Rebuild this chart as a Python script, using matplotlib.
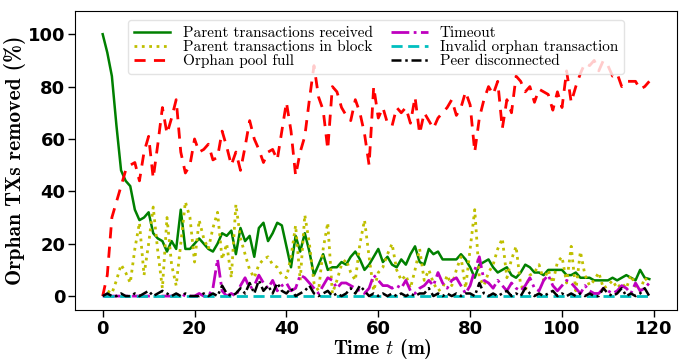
import matplotlib
matplotlib.use("Agg")
import matplotlib.pyplot as plt
from matplotlib import font_manager

time_min = list(range(120))

parent_received = [100, 93, 84, 65, 48, 44, 42, 33, 29, 30, 32, 24, 22, 21, 17, 21, 18, 33, 18, 18,
                   20, 22, 20, 18, 17, 20, 24, 23, 25, 16, 26, 21, 23, 15, 26, 28, 21, 24, 28, 27,
                   19, 11, 23, 17, 24, 17, 8, 12, 16, 10, 11, 11, 13, 12, 15, 17, 14, 10, 12, 15,
                   18, 13, 15, 12, 11, 14, 12, 16, 19, 13, 12, 18, 16, 17, 14, 14, 14, 14, 16, 14,
                   11, 7, 12, 13, 14, 11, 9, 10, 11, 8, 7, 9, 12, 11, 9, 9, 8, 10, 10, 10,
                   10, 8, 8, 9, 7, 7, 7, 6, 6, 6, 6, 7, 6, 7, 8, 7, 6, 10, 7, 6.5]

parent_in_block = [0, 2, 1, 6, 12, 9, 5, 18, 28, 8, 20, 34, 17, 3, 30, 12, 4, 20, 36, 30,
                   13, 29, 22, 18, 26, 32, 14, 20, 7, 35, 22, 16, 10, 7, 12, 14, 15, 12, 11, 8,
                   7, 15, 27, 6, 31, 20, 5, 2, 18, 28, 1, 6, 12, 14, 9, 6, 20, 29, 15, 2,
                   9, 11, 16, 20, 10, 6, 8, 3, 10, 18, 6, 10, 5, 2, 3, 8, 4, 10, 15, 3,
                   18, 33, 7, 4, 9, 12, 18, 22, 7, 14, 19, 4, 2, 8, 9, 12, 6, 10, 5, 13,
                   15, 5, 19, 2, 17, 8, 4, 6, 9, 3, 4, 6, 3, 5, 3, 8, 4, 2, 7, 5]

orphan_pool_full = [0, 8, 30, 36, 42, 48, 50, 51, 44, 55, 61, 45, 58, 72, 62, 68, 75, 55, 47, 50,
                    60, 55, 56, 58, 52, 53, 63, 57, 50, 55, 48, 57, 67, 60, 56, 51, 55, 56, 52, 63,
                    74, 63, 46, 55, 61, 75, 88, 76, 71, 56, 80, 78, 72, 69, 67, 75, 70, 62, 50, 80,
                    68, 72, 66, 65, 72, 70, 72, 66, 76, 62, 70, 67, 64, 68, 70, 72, 75, 69, 72, 78,
                    73, 55, 68, 75, 80, 77, 82, 64, 75, 70, 84, 82, 78, 80, 74, 79, 78, 77, 71, 78,
                    72, 86, 74, 80, 85, 89, 88, 90, 86, 90, 88, 84, 85, 80, 82, 82, 82, 79, 80, 82]

timeout = [0, 0, 0, 0, 0, 0, 0, 0, 0, 0, 0, 0, 0, 0, 0, 0, 0, 1, 0, 0,
           0, 1, 0, 0, 3, 14, 2, 0, 1, 0, 4, 7, 3, 4, 8, 5, 3, 6, 2, 4,
           5, 2, 3, 8, 7, 5, 3, 1, 4, 7, 6, 3, 5, 5, 4, 3, 2, 1, 3, 8,
           6, 4, 4, 3, 4, 3, 6, 2, 1, 3, 4, 6, 4, 9, 5, 3, 6, 7, 4, 1,
           4, 10, 15, 6, 5, 3, 6, 4, 2, 5, 3, 2, 4, 7, 3, 2, 6, 8, 4, 2,
           4, 6, 5, 3, 1, 4, 2, 1, 1, 3, 2, 1, 2, 4, 3, 1, 5, 2, 3, 5]

invalid_orphan = [0, 0, 0, 0, 0, 0, 0, 0, 0, 0, 0, 0, 0, 0, 0, 0, 0, 0, 0, 0,
                  0, 0, 0, 0, 0, 0, 0, 0, 0, 0, 0, 0, 0, 0, 0, 0, 0, 0, 0, 0,
                  0, 0, 0, 0, 0, 0, 0, 0, 0, 0, 0, 0, 0, 0, 0, 0, 0, 0, 0, 0,
                  0, 0, 0, 0, 0, 0, 0, 0, 0, 0, 0, 0, 0, 0, 0, 0, 0, 0, 0, 0,
                  0, 0, 0, 0, 0, 0, 0, 0, 0, 0, 0, 0, 0, 0, 0, 0, 0, 0, 0, 0,
                  0, 0, 0, 0, 0, 0, 0, 0, 0, 0, 0, 0, 0, 0, 0, 0, 0, 0, 0, 0]

peer_disconnected = [0, 1, 0, 0, 1, 0, 0, 1, 0, 1, 2, 0, 1, 2, 1, 0, 1, 0, 1, 0,
                     0, 0, 1, 0, 1, 0, 4, 1, 0, 1, 3, 1, 5, 1, 6, 2, 4, 1, 5, 2,
                     1, 3, 0, 1, 2, 4, 1, 0, 1, 2, 0, 1, 0, 1, 3, 1, 4, 2, 0, 1,
                     0, 1, 0, 1, 0, 1, 0, 1, 0, 1, 1, 3, 0, 1, 0, 1, 0, 1, 0, 1,
                     1, 0, 5, 1, 0, 1, 0, 1, 2, 0, 1, 0, 3, 1, 0, 1, 0, 1, 2, 0,
                     1, 0, 1, 0, 1, 0, 1, 0, 0, 3, 1, 0, 1, 3, 0, 1, 0, 1, 3, 0]

labels = ["Parent transactions received", "Parent transactions in block", "Orphan pool full",
          "Timeout", "Invalid orphan transaction", "Peer disconnected"]

x_ticks = [0, 20, 40, 60, 80, 100, 120]
y_ticks = [0, 20, 40, 60, 80, 100]

available = {f.name for f in font_manager.fontManager.ttflist}
tick_family = [f for f in ["Liberation Sans Narrow", "DejaVu Sans Condensed", "DejaVu Sans"] if f in available]

plt.rcParams['mathtext.fontset'] = 'cm'
plt.rcParams['axes.unicode_minus'] = False

fig = plt.figure(figsize=(6.83, 3.6), dpi=100)
ax = fig.add_axes([0.11, 0.139, 0.881, 0.830])

ax.plot(time_min, parent_received, color='g', lw=1.8, ls='-', label=labels[0])
ax.plot(time_min, parent_in_block, color='y', lw=2.0, ls=':', label=labels[1])
ax.plot(time_min, orphan_pool_full, color='r', lw=2.0, ls=(0, (4, 3)), label=labels[2])
ax.plot(time_min, timeout, color='m', lw=2.0, ls='-.', label=labels[3])
ax.plot(time_min, invalid_orphan, color='c', lw=2.0, ls=(0, (4, 2)), label=labels[4])
ax.plot(time_min, peer_disconnected, color='k', lw=1.8, ls=(0, (4, 1.5, 1, 1.5)), label=labels[5])

ax.set_xlim(-6, 125)
ax.set_ylim(-5.3, 108.8)
ax.set_xticks(x_ticks)
ax.set_yticks(y_ticks)
for lab in ax.get_xticklabels() + ax.get_yticklabels():
    lab.set_family(tick_family)
    lab.set_fontweight('bold')
    lab.set_fontsize(13)
ax.tick_params(axis='both', direction='out', length=5, width=1, pad=2)

ax.set_xlabel(r"Time $t$ (m)", family='cmb10', fontsize=14.5)
ax.set_ylabel("Orphan TXs removed (%)", family='cmb10', fontsize=15.5)
ax.xaxis.set_label_coords(0.51, -0.092)
ax.yaxis.set_label_coords(-0.082, 0.50)

leg = ax.legend(loc='upper center', ncol=2, prop={'family': 'cmr10', 'size': 11},
                handlelength=2.4, columnspacing=1.2, labelspacing=0.0,
                borderaxespad=0.6, framealpha=0.8, fancybox=True, handletextpad=0.8)
leg.get_frame().set_edgecolor('#dddddd')

fig.savefig("out.png", dpi=100)
